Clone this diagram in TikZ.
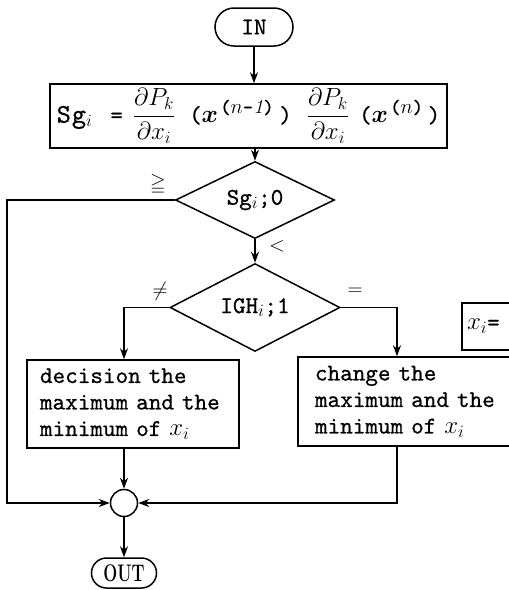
\documentclass[tikz,border=0pt]{standalone}
\usepackage{amsmath,amssymb}
\usepackage{graphicx}
\usepackage{fontspec}
\newfontfamily\twfont{lmmono10-regular.otf}[FakeBold=0.7]
\usetikzlibrary{arrows.meta,shapes.geometric}
\newcommand{\bsup}[1]{^{\mbox{\kern2pt\fontsize{20}{20}\selectfont #1}}}
\begin{document}
\begin{tikzpicture}[x=1pt,y=-1pt,line width=1.5pt,
  lbl/.style={font=\fontsize{20}{20}\selectfont},
  tt/.style={font=\fontsize{24}{26.5}\selectfont\twfont},
  term/.style={draw,rectangle,tt,inner sep=0pt},
  procbox/.style={draw,rectangle,tt,inner sep=0pt},
  dec/.style={draw,diamond,tt,inner sep=0pt},
  arr/.style={-{Stealth[length=11pt,width=8pt]}}]
\useasboundingbox (0,0) rectangle (509,590);
\node[term,rounded corners=19pt,minimum width=78pt,minimum height=38pt] (in) at (254,27) {IN};
\node[procbox,minimum width=397pt,minimum height=64pt] (sg) at (248.5,116)
  {{\fontsize{27}{27}\selectfont S\kern1pt g}$_{i}$\hspace{18pt}=\hspace{10pt}$\dfrac{\partial P_k}{\partial x_i}$\hspace{14pt}($\boldsymbol{x}\bsup{($n$-$\mathit{1}$)}$\hspace{5pt})\hspace{15pt}$\dfrac{\partial P_k}{\partial x_i}$\hspace{10pt}($\boldsymbol{x}\bsup{($n$)}$\hspace{4pt})};
\node[dec,minimum width=159pt,minimum height=74pt] (d1) at (255,200) {Sg$_i$;0};
\node[dec,minimum width=170pt,minimum height=71pt] (d2) at (255,307.5) {IGH$_i$;1};
\node[procbox,text width=186pt,align=left,minimum height=88pt,inner xsep=13pt] (lb) at (133,404) {decision the\\maximum and the\\minimum of $x_i$};
\node[procbox,text width=196pt,align=left,minimum height=89pt,inner xsep=17pt] (rb) at (413,401.5) {change the\\maximum and the\\minimum of $x_i$};
\node[procbox,text width=70pt,align=left,minimum height=47pt,inner xsep=5pt] (xb) at (502,326.5) {\raisebox{-6pt}{$x_i$=}};
\node[draw,circle,minimum size=27pt,inner sep=0pt] (j) at (124,503) {};
\node[term,rounded corners=15pt,minimum width=65pt,minimum height=30pt,font=\rmfamily] (out) at (124,573) {\scalebox{0.69}[1]{\fontsize{24}{24}\selectfont\bfseries OUT}};
\coordinate (L1) at (7,200);
\coordinate (L2) at (7,503);
\coordinate (LX) at (124,307.5);
\coordinate (RX) at (397,307.5);
\draw[arr] (in.south) -- (in.south |- sg.north);
\draw[arr] (sg.south -| d1.north) -- (d1.north);
\draw[arr] (d1.west) -- (L1) -- (L2) -- (j.west);
\draw[arr] (d1.south) -- (d2.north);
\draw[arr] (d2.west) -- (LX) -- (LX |- lb.north);
\draw[arr] (d2.east) -- (RX) -- (RX |- rb.north);
\draw[arr] (LX |- lb.south) -- (j.north);
\draw[arr] (RX |- rb.south) -- (RX |- j.east) -- (j.east);
\draw[arr] (j.south) -- (out.north);
\node[lbl] (ge) at (158,184) {$\geqq$};
\node[lbl] (lt) at (277,246) {$<$};
\node[lbl] (ne) at (160,291) {$\neq$};
\node[lbl] (eq) at (355,292) {$=$};
\end{tikzpicture}
\end{document}
